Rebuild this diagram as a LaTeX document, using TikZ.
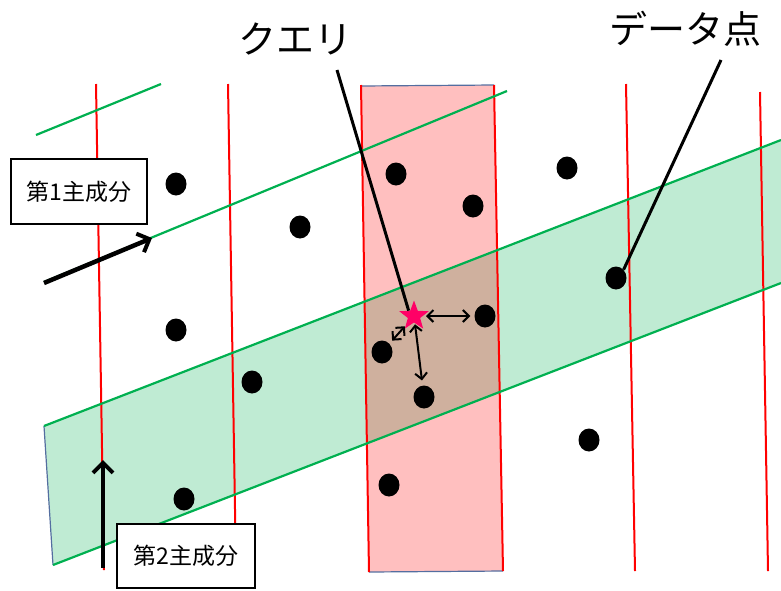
\documentclass[tikz,border=0pt]{standalone}
\usepackage{fontspec}
\newfontfamily\jp{Noto Sans CJK JP}
\usetikzlibrary{shapes.geometric,arrows.meta}
\definecolor{pgreen}{RGB}{0,176,80}
\definecolor{pred}{RGB}{255,0,0}
\definecolor{qstar}{RGB}{255,0,102}
\definecolor{edgeblue}{RGB}{84,110,160}
\begin{document}
\begin{tikzpicture}[x=1pt,y=-1pt,
  dot/.style={ellipse,fill=black,minimum width=21pt,minimum height=23pt,inner sep=0pt},
  redline/.style={draw=pred,line width=2pt},
  greenline/.style={draw=pgreen,line width=2.2pt},
  labelbox/.style={draw=black,line width=2.5pt,fill=white,font=\jp\fontsize{23}{26}\selectfont,inner sep=0pt},
  biglabel/.style={font=\jp\fontsize{38}{42}\selectfont,inner sep=0pt},
  pointer/.style={draw=black,line width=3pt},
  pcarrow/.style={draw=black,line width=4.5pt,-{Straight Barb[length=10pt,width=20pt,line width=4pt]}},
  dblarrow/.style={draw=black,line width=2pt,{Straight Barb[length=6pt,width=12pt,line width=2pt]}-{Straight Barb[length=6pt,width=12pt,line width=2pt]}}]
\useasboundingbox (0,0) rectangle (781,590);
% green band
\fill[pgreen,fill opacity=0.25] (44,426) -- (781,140) -- (781,283) -- (53,565) -- cycle;
\draw[edgeblue,line width=1.2pt] (44,426) -- (53,565);
% pink rectangle
\fill[pred,fill opacity=0.25] (361,86) -- (494,85) -- (503,571) -- (369,572) -- cycle;
\draw[edgeblue,line width=1.2pt] (361,86) -- (494,85) (503,571) -- (369,572);
% red vertical lines
\draw[redline] (96,84) -- (104,570);
\draw[redline] (228,84) -- (236,570);
\draw[redline] (361,85) -- (369,572);
\draw[redline] (494,85) -- (503,571);
\draw[redline] (626,84) -- (635,571);
\draw[redline] (760,92) -- (768,571);
% green lines
\draw[greenline] (36,135) -- (161,84);
\draw[greenline] (44,282) -- (507,91);
\draw[greenline] (44,426) -- (781,140);
\draw[greenline] (53,565) -- (781,283);
% data points
\node[dot] (d1) at (176,184) {};
\node[dot] (d2) at (300,227) {};
\node[dot] (d3) at (176,330) {};
\node[dot] (d4) at (252,382) {};
\node[dot] (d5) at (184,499) {};
\node[dot] (d6) at (396,174) {};
\node[dot] (d7) at (473,206) {};
\node[dot] (d8) at (567,168) {};
\node[dot] (d9) at (616,278) {};
\node[dot] (d10) at (485,316) {};
\node[dot] (d11) at (382,352) {};
\node[dot] (d12) at (424,397) {};
\node[dot] (d13) at (589,440) {};
\node[dot] (d14) at (389,485) {};
% query star
\node[star,star points=5,star point ratio=2.4,minimum size=31pt,inner sep=0pt,fill=qstar] (q) at (414,316) {};
% labels
\node[biglabel] (lq) at (295,39) {クエリ};
\node[biglabel] (ld) at (685,29) {データ点};
\coordinate (lqs) at (337,70);
\coordinate (lds) at (721,60);
\draw[pointer] (lqs) -- (q.north west);
\draw[pointer] (lds) -- (d9.north east);
% distance arrows
\draw[dblarrow,shorten <=3pt,shorten >=4pt] (q) -- (d10);
\draw[dblarrow,shorten <=1pt,shorten >=4pt] (q) -- (d11);
\draw[dblarrow,shorten <=1pt,shorten >=5pt] (q) -- (d12);
% principal component arrows
\coordinate (a1s) at (44,283);
\coordinate (a1e) at (152,238);
\coordinate (a2s) at (103,568);
\coordinate (a2e) at (103,460);
\draw[pcarrow] (a1s) -- (a1e);
\draw[pcarrow] (a2s) -- (a2e);
% label boxes
\node[labelbox,minimum width=136pt,minimum height=65pt] (pc1) at (79,191.5) {第1主成分};
\node[labelbox,minimum width=138pt,minimum height=64pt] (pc2) at (186,556) {第2主成分};
\end{tikzpicture}
\end{document}
